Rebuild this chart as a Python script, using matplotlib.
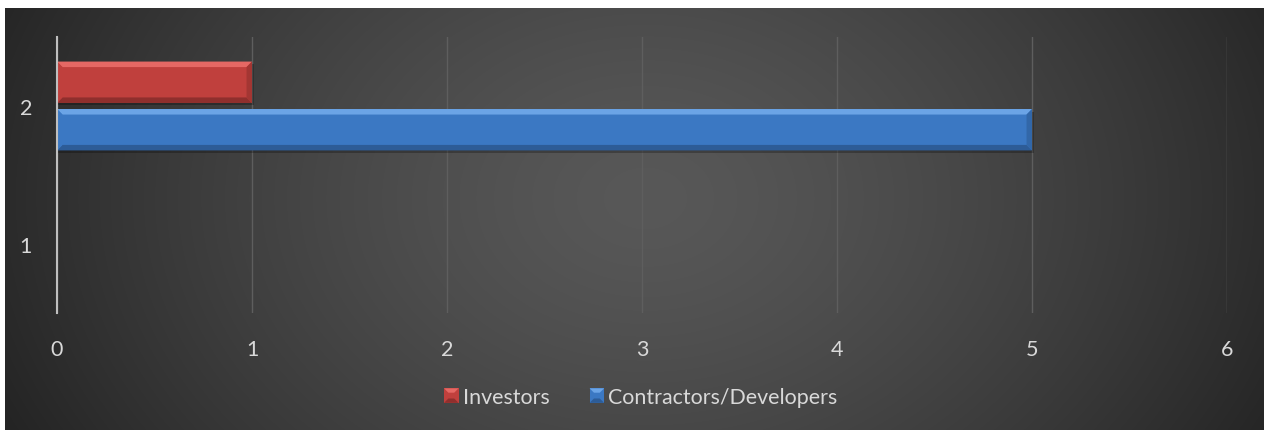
import numpy as np
import matplotlib
matplotlib.use("Agg")
import matplotlib.pyplot as plt
from matplotlib.patches import Polygon, Patch
from matplotlib.legend_handler import HandlerPatch

categories = ["1", "2"]
investors = [0, 1]
contractors = [0, 5]
series_names = ["Investors", "Contractors/Developers"]
x_ticks = [0, 1, 2, 3, 4, 5, 6]

W, H, DPI = 1264, 431, 100
plt.rcParams["font.family"] = ["Lato", "DejaVu Sans"]
text_color = "#d9d9d9"

fig = plt.figure(figsize=(W / DPI, H / DPI), dpi=DPI, facecolor="white")

# dark radial backdrop
bg = fig.add_axes([5 / W, 0, (W - 5) / W, (H - 9) / H])
bg.set_axis_off()
yy, xx = np.mgrid[0:422, 0:1259]
r = np.sqrt(((xx - 640) / 700.0) ** 2 + ((yy - 190) / 520.0) ** 2)
r = np.clip(r, 0, 1)
val = 0.345 - (0.345 - 0.145) * r ** 1.4
img = np.dstack([val, val, val])
bg.imshow(img, aspect="auto", extent=[0, 1, 0, 1], interpolation="bilinear")
bg.set_xlim(0, 1)
bg.set_ylim(0, 1)

ax = fig.add_axes([57 / W, (H - 314) / H, 1170 / W, 276 / H])
ax.patch.set_alpha(0)
ax.set_xlim(0, 6)
ax.set_ylim(-0.5, 1.5)

y = np.arange(len(categories))
bh = 0.30
off = 0.172


def bevel_bar(ax, rect, main, light, dark, side):
    x0, y0 = rect.get_x(), rect.get_y()
    w, h = rect.get_width(), rect.get_height()
    if w <= 0:
        return
    dx, dy = 0.028, 0.04
    x1, y1 = x0 + w, y0 + h
    # drop shadow
    ax.add_patch(Polygon([(x0, y0 - 0.015), (x1 + 0.01, y0 - 0.015), (x1 + 0.01, y1 - 0.02), (x0, y1 - 0.02)],
                         closed=True, fc="black", alpha=0.25, ec="none", zorder=2))
    ax.add_patch(Polygon([(x0, y1), (x1, y1), (x1 - dx, y1 - dy), (x0 + dx, y1 - dy)],
                         closed=True, fc=light, ec="none", zorder=4))
    ax.add_patch(Polygon([(x0, y0), (x1, y0), (x1 - dx, y0 + dy), (x0 + dx, y0 + dy)],
                         closed=True, fc=dark, ec="none", zorder=4))
    ax.add_patch(Polygon([(x1, y0), (x1, y1), (x1 - dx, y1 - dy), (x1 - dx, y0 + dy)],
                         closed=True, fc=side, ec="none", zorder=4))
    ax.add_patch(Polygon([(x0, y0), (x0, y1), (x0 + dx, y1 - dy), (x0 + dx, y0 + dy)],
                         closed=True, fc=main, ec="none", zorder=4))


red = dict(main="#c0403d", light="#e56864", dark="#8f2f2d", side="#a33633")
blue = dict(main="#3b78c3", light="#6ba4e6", dark="#2d5c97", side="#3267a8")

bars_i = ax.barh(y + off, investors, height=bh, color=red["main"], zorder=3, label=series_names[0])
bars_c = ax.barh(y - off, contractors, height=bh, color=blue["main"], zorder=3, label=series_names[1])
for b in bars_i:
    bevel_bar(ax, b, **red)
for b in bars_c:
    bevel_bar(ax, b, **blue)

ax.set_xticks(x_ticks)
ax.set_xticklabels([str(t) for t in x_ticks])
ax.set_yticks(y)
ax.set_yticklabels(categories)
ax.grid(axis="x", color="#5e5e5e", linewidth=1.0, zorder=1)
ax.set_axisbelow(True)
for s in ["top", "right", "bottom"]:
    ax.spines[s].set_visible(False)
ax.spines["left"].set_color("#bfbfbf")
ax.spines["left"].set_linewidth(1.5)
ax.spines["left"].set_zorder(5)
ax.tick_params(axis="both", length=0, colors=text_color, labelsize=15.5)
ax.tick_params(axis="x", pad=19)
ax.tick_params(axis="y", pad=18)


class BevelHandler(HandlerPatch):
    def __init__(self, colors):
        super().__init__()
        self.colors = colors

    def create_artists(self, legend, orig_handle, xdescent, ydescent, width, height, fontsize, trans):
        c = self.colors[orig_handle.get_label()]
        s = min(width, height) * 0.85
        x0 = -xdescent + width - s
        y0 = -ydescent + (height - s) / 2
        x1, y1 = x0 + s, y0 + s
        d = s * 0.3
        arts = [
            Polygon([(x0, y0), (x1, y0), (x1, y1), (x0, y1)], closed=True, fc=c["main"], ec="none"),
            Polygon([(x0, y1), (x1, y1), (x1 - d, y1 - d), (x0 + d, y1 - d)], closed=True, fc=c["light"], ec="none"),
            Polygon([(x0, y0), (x1, y0), (x1 - d, y0 + d), (x0 + d, y0 + d)], closed=True, fc=c["dark"], ec="none"),
        ]
        for a in arts:
            a.set_transform(trans)
        return arts


handles = [Patch(label=series_names[0]), Patch(label=series_names[1])]
leg = fig.legend(handles=handles, loc="center", bbox_to_anchor=(639 / W, 1 - 398 / H), ncol=2,
                 frameon=False, fontsize=15.4, labelcolor=text_color, handlelength=0.85,
                 handleheight=0.85, handletextpad=0.2, columnspacing=1.7,
                 handler_map={Patch: BevelHandler({series_names[0]: red, series_names[1]: blue})})

fig.savefig("out.png", dpi=DPI, facecolor="white")
